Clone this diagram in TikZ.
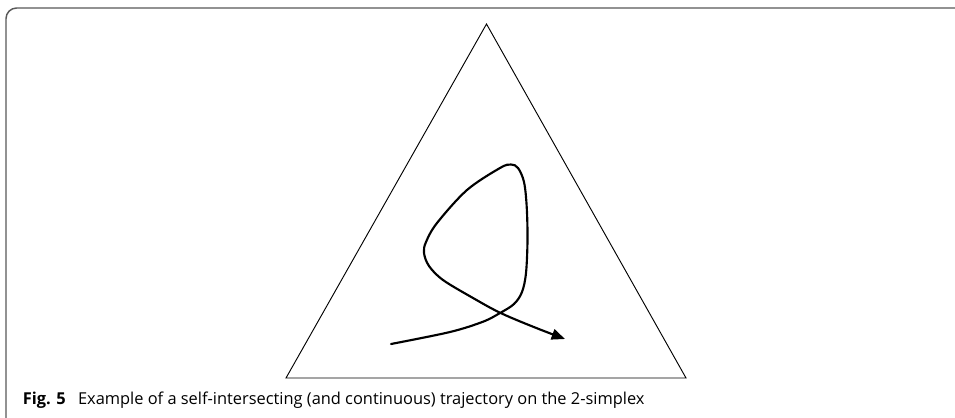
\documentclass[tikz,border=0pt]{standalone}
\usepackage{fontspec}
\setmainfont{Open Sans}
\usetikzlibrary{arrows.meta}
\begin{document}
\begin{tikzpicture}[x=0.75pt,y=-0.75pt,
  frame/.style={draw=black!65,line width=1.1pt,rounded corners=8pt},
  simplex/.style={draw=black,line width=0.7pt,line join=miter},
  traj/.style={draw=black,line width=1.6pt,line cap=round,
    -{Triangle[length=10pt,width=8pt]}},
  caption/.style={anchor=base west,inner sep=0pt,font=\fontsize{12.3}{14}\selectfont}]
\useasboundingbox (0,0) rectangle (955,417);
\fill[white] (0,0) rectangle (955,417);
\draw[frame] (6,430) -- (6,8) -- (970,8);
\coordinate (apex) at (486.5,24);
\coordinate (bl) at (286,378);
\coordinate (br) at (686,378);
\draw[simplex] (apex) -- (bl) -- (br) -- cycle;
\draw[traj] plot[smooth,tension=0.55] coordinates {
 (391,344) (450,332) (483,321.7) (500,313) (514,304) (522,292) (526,273)
 (527.5,240) (526.7,206.7) (524,182) (518,168) (511,164.5) (500,168)
 (467,190) (437,223) (426,242) (424,253) (429,266) (443,280) (473,298)
 (500,312.7) (533,326.7) (565,339)};
\node[caption] (cap) at (22.5,404.5) {\textbf{Fig. 5}\hspace{0.75em}Example of a self-intersecting (and continuous) trajectory on the 2-simplex};
\end{tikzpicture}
\end{document}
